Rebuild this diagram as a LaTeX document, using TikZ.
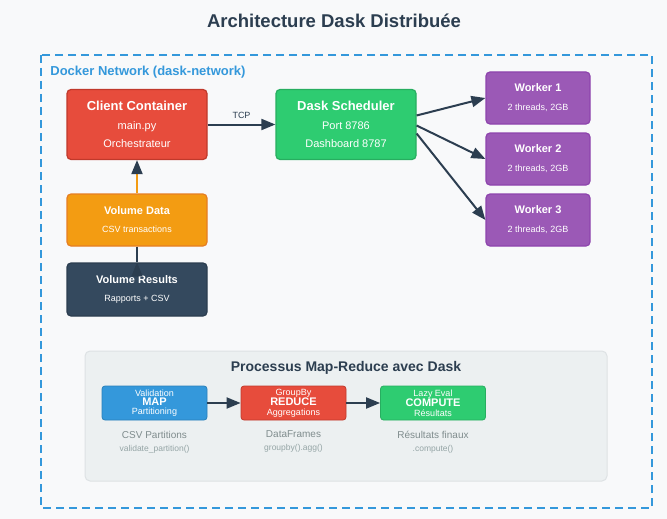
\documentclass[tikz,border=0pt]{standalone}
\usepackage{fontspec}
\setmainfont{Liberation Sans}
\usetikzlibrary{arrows.meta,positioning}

\definecolor{bgc}{HTML}{F8F9FA}
\definecolor{ink}{HTML}{2C3E50}
\definecolor{netblue}{HTML}{3498DB}
\definecolor{mapblue}{HTML}{2980B9}
\definecolor{cred}{HTML}{E74C3C}
\definecolor{credd}{HTML}{C0392B}
\definecolor{cgreen}{HTML}{2ECC71}
\definecolor{cgreend}{HTML}{27AE60}
\definecolor{cpurple}{HTML}{9B59B6}
\definecolor{cpurpled}{HTML}{8E44AD}
\definecolor{corange}{HTML}{F39C12}
\definecolor{coranged}{HTML}{E67E22}
\definecolor{slate}{HTML}{34495E}
\definecolor{framebg}{HTML}{ECF0F1}
\definecolor{framebd}{HTML}{BDC3C7}
\definecolor{capgray}{HTML}{7F8C8D}
\definecolor{codegray}{HTML}{95A5A6}

\newcommand{\fs}[1]{\fontsize{#1}{#1}\selectfont}

\begin{document}
\begin{tikzpicture}[x=1pt,y=-1pt,thick]
\tikzstyle{box}=[draw,rounded corners=4pt,text=white,align=center,inner sep=0pt,line width=1.2pt]
\tikzstyle{bigbox}=[box,minimum width=140pt,minimum height=70pt,font=\fontsize{11}{18}\selectfont]
\tikzstyle{midbox}=[box,minimum width=140pt,minimum height=52pt,font=\fontsize{9}{18}\selectfont]
\tikzstyle{workerbox}=[box,fill=cpurple,draw=cpurpled,minimum width=104pt,minimum height=52pt,font=\fontsize{9}{18}\selectfont]
\tikzstyle{stepbox}=[box,rounded corners=3pt,line width=0.8pt,minimum width=105pt,minimum height=34pt,font=\fontsize{9}{9.2}\selectfont]
\tikzstyle{captext}=[text=capgray,font=\fs{10},inner sep=0pt]
\tikzstyle{codetext}=[text=codegray,font=\fs{8.5},inner sep=0pt]
\tikzstyle{flow}=[draw=ink,line width=2pt,-{Triangle[length=14pt,width=11pt]}]

\useasboundingbox[fill=bgc] (0,0) rectangle (667,519);

% title and network frame
\node[text=ink,font=\bfseries\fs{18.5}] (title) at (334,21) {Architecture Dask Distribuée};
\draw[netblue,line width=1.8pt,dash pattern=on 8pt off 5pt] (41,55) rectangle (652,508);
\node[anchor=west,text=netblue,font=\bfseries\fs{13},inner sep=0pt] (net) at (50,72) {Docker Network (dask-network)};

% containers
\node[bigbox,fill=cred,draw=credd] (client) at (137,124.5)
  {{\bfseries\fs{13}Client Container}\\[1pt] main.py\\ Orchestrateur};
\node[bigbox,fill=cgreen,draw=cgreend] (sched) at (346,124.5)
  {{\bfseries\fs{13}Dask Scheduler}\\[1pt] Port 8786\\ Dashboard 8787};

\node[workerbox] (w1) at (538,98) {{\bfseries\fs{11}Worker 1}\\[1pt] 2 threads, 2GB};
\node[workerbox] (w2) at (538,159) {{\bfseries\fs{11}Worker 2}\\[1pt] 2 threads, 2GB};
\node[workerbox] (w3) at (538,220) {{\bfseries\fs{11}Worker 3}\\[1pt] 2 threads, 2GB};

\node[midbox,fill=corange,draw=coranged] (data) at (137,220)
  {{\bfseries\fs{11}Volume Data}\\ CSV transactions};
\node[midbox,fill=slate,draw=ink,minimum height=53pt] (res) at (137,289.5)
  {{\bfseries\fs{11}Volume Results}\\ Rapports + CSV};

% connections
\draw[flow] (client) -- node[above=2pt,text=ink,font=\fs{9}] (tcp) {TCP} (sched);
\draw[flow] ([yshift=9pt]sched.east) -- (w1.west);
\draw[flow] ([yshift=-1pt]sched.east) -- (w2.west);
\draw[flow] ([yshift=-9pt]sched.east) -- (w3.west);
\draw[draw=corange,line width=2pt,-{Triangle[length=14pt,width=11pt,color=ink]}] (data) -- (client);
\draw[ink,line width=2pt] (data) -- (res);
\draw[draw=ink,line width=0.5pt,-{Triangle[length=14pt,width=11pt]}] ([yshift=-14pt]res.north) -- (res.north);

% map-reduce panel
\node[draw=framebg!70!framebd,fill=framebg,rounded corners=5pt,line width=1pt,
  minimum width=522pt,minimum height=130pt] (proc) at (346,416) {};
\node[text=ink,font=\bfseries\fs{14}] (ptitle) at (346,368) {Processus Map-Reduce avec Dask};

\node[stepbox,fill=netblue,draw=mapblue] (map) at (154.5,403)
  {Validation\\{\bfseries\fs{11}MAP}\\Partitioning};
\node[stepbox,fill=cred,draw=credd] (reduce) at (293.5,403)
  {GroupBy\\{\bfseries\fs{11}REDUCE}\\Aggregations};
\node[stepbox,fill=cgreen,draw=cgreend] (compute) at (433,403)
  {Lazy Eval\\{\bfseries\fs{11}COMPUTE}\\Résultats};

\draw[flow] (map) -- (reduce);
\draw[flow] (reduce) -- (compute);

\node[captext,below=10pt of map] (mapcap) {CSV Partitions};
\node[codetext,below=6pt of mapcap] (mapcode) {validate\_partition()};
\node[captext,below=10pt of reduce] (redcap) {DataFrames};
\node[codetext,below=6pt of redcap] (redcode) {groupby().agg()};
\node[captext,below=10pt of compute] (compcap) {Résultats finaux};
\node[codetext,below=6pt of compcap] (compcode) {.compute()};
\end{tikzpicture}
\end{document}
